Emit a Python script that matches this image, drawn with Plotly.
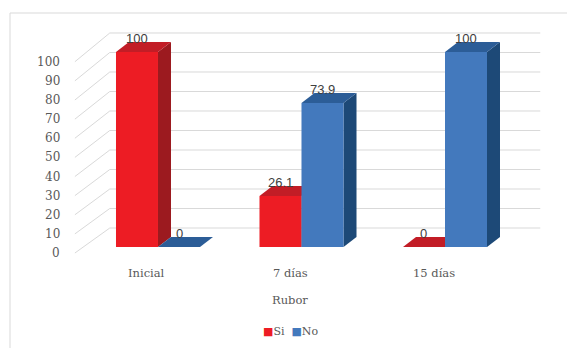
import plotly.graph_objects as go

# ---- data ----
categories = ["Inicial", "7 días", "15 días"]
si_values = [100, 26.1, 0]
no_values = [0, 73.9, 100]
series_names = ["Si", "No"]
y_ticks = [0, 10, 20, 30, 40, 50, 60, 70, 80, 90, 100]
axis_title = "Rubor"

# ---- styling ----
face_colors = {
    "Si": {"front": "#ED1C24", "top": "#C21D26", "side": "#9C1A1F"},
    "No": {"front": "#4379BD", "top": "#2C5D97", "side": "#1D4977"},
}
grid_color = "#D9D9D9"
label_color = "#595959"
value_color = "#404040"
serif = "DejaVu Serif"
sans = "Liberation Sans"

# ---- pseudo-3D geometry (axis units: categories on x, values on y) ----
BAR_W = 0.2927          # width of a bar's front face
DEPTH_X, DEPTH_Y = 0.0906, 5.13   # bar depth offset
WALL_X, WALL_Y = 0.164, 9.75      # back wall offset relative to bar plane
EDGE_X = -0.079                   # front edge of the side wall
FRONT_BASE, FRONT_SCALE = -3.08, 0.981


def front_edge(v):
    return FRONT_BASE + FRONT_SCALE * v


fig = go.Figure()

# back wall gridlines and side wall diagonals
n = len(categories)
gx, gy, dx_, dy_ = [], [], [], []
for t in y_ticks:
    gx += [-0.5 + WALL_X, n - 0.5 + WALL_X, None]
    gy += [t + WALL_Y, t + WALL_Y, None]
    dx_ += [-0.5 + EDGE_X, -0.5 + WALL_X, None]
    dy_ += [front_edge(t), t + WALL_Y, None]
fig.add_trace(go.Scatter(x=gx, y=gy, mode="lines", line=dict(color=grid_color, width=1),
                         hoverinfo="skip", showlegend=False))
fig.add_trace(go.Scatter(x=dx_, y=dy_, mode="lines", line=dict(color=grid_color, width=1),
                         hoverinfo="skip", showlegend=False))


def add_face(pts, color):
    xs = [p[0] for p in pts] + [pts[0][0]]
    ys = [p[1] for p in pts] + [pts[0][1]]
    fig.add_trace(go.Scatter(x=xs, y=ys, mode="lines", fill="toself", fillcolor=color,
                             line=dict(width=0, color=color), hoverinfo="skip",
                             showlegend=False))


annotations = []
series = {"Si": si_values, "No": no_values}
for i, cat in enumerate(categories):
    for k, name in enumerate(series_names):
        v = series[name][i]
        x0 = i - BAR_W + k * BAR_W
        x1 = x0 + BAR_W
        c = face_colors[name]
        if v > 0:
            add_face([(x1, 0), (x1 + DEPTH_X, DEPTH_Y), (x1 + DEPTH_X, v + DEPTH_Y), (x1, v)], c["side"])
        add_face([(x0, v), (x1, v), (x1 + DEPTH_X, v + DEPTH_Y), (x0 + DEPTH_X, v + DEPTH_Y)], c["top"])
        if v > 0:
            add_face([(x0, 0), (x1, 0), (x1, v), (x0, v)], c["front"])
        annotations.append(dict(x=(x0 + x1) / 2, y=v, text=f"{v:g}", showarrow=False,
                                xanchor="center", yanchor="bottom", yshift=4,
                                font=dict(family=sans, size=13, color=value_color)))

# value axis labels
for t in y_ticks:
    annotations.append(dict(x=-0.5 + EDGE_X, y=front_edge(t), text=str(t), showarrow=False,
                            xanchor="right", yanchor="middle", xshift=-13,
                            font=dict(family=serif, size=12, color=label_color)))

# category labels and axis title
for i, cat in enumerate(categories):
    annotations.append(dict(x=i + EDGE_X, y=front_edge(0), text=cat, showarrow=False,
                            xanchor="center", yanchor="middle", yshift=-20,
                            font=dict(family=serif, size=11.5, color=label_color)))
annotations.append(dict(x=(n - 1) / 2 + EDGE_X, y=front_edge(0), text=axis_title, showarrow=False,
                        xanchor="center", yanchor="middle", yshift=-47,
                        font=dict(family=serif, size=11.5, color=label_color)))

# legend
legend_text = "&nbsp;&nbsp;".join(
    f'<span style="color:{face_colors[s]["front"]}">■</span>{s}' for s in series_names)
annotations.append(dict(x=(n - 1) / 2 + EDGE_X, y=front_edge(0), text=legend_text, showarrow=False,
                        xanchor="center", yanchor="middle", yshift=-78,
                        font=dict(family=serif, size=11, color=label_color)))

fig.update_layout(
    width=567, height=348,
    margin=dict(l=0, r=0, t=0, b=0),
    paper_bgcolor="white", plot_bgcolor="white",
    showlegend=False, hovermode=False,
    xaxis=dict(range=[-1.1010, 2.8502], visible=False, fixedrange=True),
    yaxis=dict(range=[-51.79, 126.67], visible=False, fixedrange=True),
    annotations=annotations,
    shapes=[dict(type="rect", xref="paper", yref="paper", x0=10 / 567, x1=1.02,
                 y0=-0.02, y1=1 - 13 / 348, line=dict(color=grid_color, width=1))],
)

fig.write_html("out.html")
